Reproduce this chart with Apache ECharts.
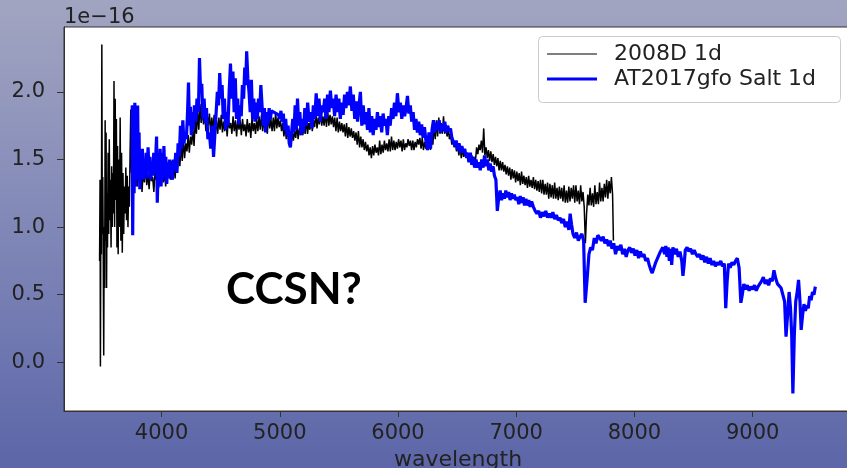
<!DOCTYPE html>
<html>
<head>
<meta charset="utf-8">
<script src="https://cdn.jsdelivr.net/npm/echarts@6/dist/echarts.min.js"></script>
<style>
html,body{margin:0;padding:0;background:#7f87b6;}
#chart{width:847px;height:468px;}
</style>
</head>
<body>
<div id="chart"></div>
<script>
// ---- data (flux in units of 1e-16) ----
const xTicks = [4000, 5000, 6000, 7000, 8000, 9000];
const yTicks = [0.0, 0.5, 1.0, 1.5, 2.0];
const seriesNames = ['2008D 1d', 'AT2017gfo Salt 1d'];

const blackWave = [3476,3480,3483,3487,3491,3495,3499,3503,3507,3511,3515,3519,3523,3527,3531,3535,3539,3543,3548,3553,3558,3563,3568,3573,3578,3583,3588,3593,3598,3603,3608,3613,3618,3623,3628,3633,3638,3644,3650,3656,3662,3668,3674,3680,3686,3692,3698,3704,3710,3716,3722,3728,3734,3740,3746,3752,3758,3764,3770,3776,
3785,3795,3805,3815,3825,3835,3845,3855,3865,3875,3885,3895,3905,3915,3925,3935,3945,3955,3965,3975,3985,3995,
4005,4015,4025,4035,4045,4055,4065,4075,4085,4095,4105,4115,4125,4135,4145,4155,4165,4175,4185,4195,
4205,4215,4225,4235,4245,4255,4265,4275,4285,4295,4305,4315,4325,4335,4345,4355,4365,4375,4385,4395,
4405,4415,4425,4435,4445,4455,4465,4475,4485,4495,4505,4515,4525,4535,4545,4555,4565,4575,4585,4595,
4605,4615,4625,4635,4645,4655,4665,4675,4685,4695,4705,4715,4725,4735,4745,4755,4765,4775,4785,4795,
4805,4815,4825,4835,4845,4855,4865,4875,4885,4895,4905,4915,4925,4935,4945,4955,4965,4975,4985,4995,
5005,5015,5025,5035,5045,5055,5065,5075,5085,5095,5105,5115,5125,5135,5145,5155,5165,5175,5185,5195,
5205,5215,5225,5235,5245,5255,5265,5275,5285,5295,5305,5315,5325,5335,5345,5355,5365,5375,5385,5395,
5405,5415,5425,5435,5445,5455,5465,5475,5485,5495,5505,5515,5525,5535,5545,5555,5565,5575,5585,5595,
5605,5615,5625,5635,5645,5655,5665,5675,5685,5695,5705,5715,5725,5735,5745,5755,5765,5775,5785,5795,
5805,5815,5825,5835,5845,5855,5865,5875,5885,5895,5905,5915,5925,5935,5945,5955,5965,5975,5985,5995,
6005,6015,6025,6035,6045,6055,6065,6075,6085,6095,6105,6115,6125,6135,6145,6155,6165,6175,6185,6195,
6205,6215,6225,6235,6245,6255,6265,6275,6285,6295,6305,6315,6325,6335,6345,6355,6365,6375,6385,6395,
6405,6415,6425,6435,6445,6455,6465,6475,6485,6495,6505,6515,6525,6535,6545,6555,6565,6575,6585,6595,
6605,6615,6625,6635,6645,6655,6665,6675,6685,6695,6705,6715,6725,6735,6745,6755,6765,6775,6785,6795,
6805,6815,6825,6835,6845,6855,6865,6875,6885,6895,6905,6915,6925,6935,6945,6955,6965,6975,6985,6995,
7005,7015,7025,7035,7045,7055,7065,7075,7085,7095,7105,7115,7125,7135,7145,7155,7165,7175,7185,7195,
7205,7215,7225,7235,7245,7255,7265,7275,7285,7295,7305,7315,7325,7335,7345,7355,7365,7375,7385,7395,
7405,7415,7425,7435,7445,7455,7465,7475,7485,7495,7505,7515,7525,7535,7545,7555,7565,7575,7585,7595,
7605,7615,7625,7635,7645,7655,7665,7675,7685,7695,7705,7715,7725,7735,7745,7755,7765,7775,7785,7795,
7805,7815,7822];
const blackFlux = [0.75,1.35,-0.03,1.20,0.80,2.35,0.95,1.37,0.78,0.05,1.00,0.55,1.79,0.90,1.70,0.55,1.25,0.85,1.55,0.95,1.65,1.05,1.35,0.85,1.45,1.00,1.40,1.10,2.08,1.00,1.95,1.20,1.80,0.85,1.60,0.80,1.50,1.00,1.81,0.90,1.55,0.81,1.40,0.95,1.30,1.10,1.44,1.05,1.38,1.00,1.30,1.15,1.55,1.87,1.40,1.90,1.30,1.75,1.35,1.60,
1.45,1.30,1.52,1.32,1.45,1.26,1.42,1.33,1.46,1.31,1.40,1.28,1.43,1.34,1.37,1.26,1.41,1.35,1.44,1.29,1.38,1.34,
1.46,1.33,1.41,1.30,1.47,1.37,1.44,1.35,1.49,1.39,1.45,1.36,1.52,1.43,1.56,1.45,1.61,1.49,1.66,1.51,
1.62,1.56,1.68,1.55,1.67,1.61,1.73,1.60,1.79,1.69,1.86,1.72,1.91,1.77,1.87,1.76,1.85,1.71,1.83,1.75,
1.84,1.70,1.81,1.72,1.83,1.71,1.79,1.69,1.81,1.72,1.83,1.70,1.78,1.71,1.80,1.67,1.81,1.73,1.77,1.69,
1.82,1.71,1.79,1.67,1.80,1.72,1.79,1.68,1.80,1.71,1.76,1.67,1.80,1.70,1.77,1.66,1.81,1.71,1.77,1.69,
1.80,1.71,1.82,1.72,1.83,1.71,1.79,1.72,1.80,1.69,1.84,1.73,1.80,1.71,1.81,1.71,1.85,1.73,1.81,1.74,
1.79,1.71,1.77,1.67,1.75,1.65,1.73,1.65,1.71,1.61,1.71,1.64,1.71,1.66,1.76,1.65,1.73,1.68,1.79,1.68,
1.75,1.69,1.80,1.69,1.77,1.72,1.83,1.71,1.79,1.74,1.85,1.73,1.81,1.76,1.86,1.75,1.82,1.75,1.85,1.74,
1.87,1.75,1.83,1.76,1.82,1.74,1.81,1.71,1.81,1.70,1.78,1.71,1.77,1.70,1.76,1.67,1.77,1.66,1.74,1.67,
1.73,1.66,1.71,1.64,1.70,1.61,1.71,1.59,1.67,1.59,1.65,1.57,1.63,1.56,1.61,1.53,1.59,1.51,1.60,1.53,
1.61,1.55,1.59,1.53,1.64,1.54,1.61,1.55,1.64,1.57,1.62,1.56,1.65,1.56,1.67,1.57,1.64,1.57,1.63,1.58,
1.65,1.59,1.64,1.56,1.65,1.57,1.62,1.59,1.65,1.60,1.64,1.57,1.64,1.57,1.63,1.59,1.65,1.61,1.66,1.58,
1.66,1.57,1.63,1.58,1.61,1.57,1.65,1.57,1.69,1.61,1.76,1.65,1.79,1.67,1.81,1.69,1.77,1.69,1.82,1.69,
1.75,1.67,1.73,1.65,1.69,1.61,1.65,1.59,1.63,1.56,1.61,1.53,1.61,1.51,1.59,1.52,1.56,1.51,1.55,1.50,
1.54,1.48,1.53,1.47,1.51,1.49,1.59,1.54,1.61,1.57,1.64,1.55,1.73,1.53,1.59,1.51,1.57,1.49,1.56,1.48,
1.54,1.46,1.52,1.45,1.51,1.42,1.49,1.42,1.48,1.41,1.46,1.39,1.45,1.38,1.44,1.35,1.43,1.36,1.42,1.33,
1.41,1.34,1.40,1.31,1.41,1.32,1.38,1.31,1.37,1.29,1.38,1.30,1.35,1.29,1.37,1.28,1.35,1.27,1.34,1.26,
1.35,1.25,1.35,1.24,1.32,1.24,1.33,1.21,1.32,1.22,1.31,1.21,1.33,1.21,1.29,1.20,1.30,1.21,1.29,1.19,
1.31,1.18,1.27,1.18,1.30,1.19,1.29,1.21,1.31,1.18,1.31,1.19,1.27,1.17,1.31,1.19,1.26,1.15,0.88,1.10,
1.24,1.16,1.29,1.16,1.25,1.15,1.31,1.17,1.26,1.17,1.33,1.19,1.29,1.19,1.32,1.22,1.35,1.21,1.34,1.25,
1.37,1.24,0.90];

const blueWave = [3752,3756,3762,3768,3774,3780,3786,3792,3798,3804,3810,3816,3822,3830,3838,3846,3854,3862,3870,3878,3886,3894,3902,3910,3918,3926,3934,3942,3950,3958,3964,3972,3980,3988,3996,
4004,4012,4020,4028,4036,4044,4052,4060,4068,4076,4084,4092,4100,4110,4120,4130,4140,4150,4160,4170,4180,4190,4200,4210,4220,4228,4236,4244,4252,4260,4268,4278,4290,4300,4312,4321,4330,4340,4350,4360,4370,4380,4392,
4404,4416,4428,4440,4452,4462,4472,4482,4492,4502,4512,4522,4532,4542,4552,4562,4572,4583,4594,4604,4614,4624,4634,4644,4654,4664,4674,4684,4694,4704,4712,4720,4730,4740,4750,4760,4770,4780,4790,4800,
4810,4820,4830,4840,4850,4860,4870,4880,4890,4900,4910,4920,4930,4990,5000,5010,5020,5030,5040,5050,5060,5070,5080,5090,5100,5110,5120,5130,5140,5150,5160,5170,5180,5190,5200,
5212,5224,5236,5248,5260,5272,5284,5296,5308,5320,5332,5344,5356,5368,5380,5392,5404,5416,5428,5440,5452,5464,5476,5488,5500,5512,5524,5536,5548,5560,5572,5584,5597,5610,5622,5634,5646,5658,5670,5682,5694,
5706,5718,5730,5742,5754,5766,5778,5790,5802,5814,5826,5838,5850,5862,5874,5886,5898,5910,5922,5934,5946,5958,5970,5982,5995,6008,6020,6032,6044,6056,6068,6080,6092,6104,6116,6128,6140,6152,6164,6176,6188,6200,
6212,6224,6236,6250,6262,6275,6288,6300,6312,6324,6336,6348,6360,6372,6384,6396,6408,6420,6432,6444,6456,6468,6480,6492,6504,6516,6528,6540,6552,6564,6576,6588,6600,6612,6624,6636,6648,6660,6672,6684,6696,
6708,6720,6732,6744,6756,6768,6780,6792,6804,6816,6828,6840,6852,6864,6876,6888,6900,6912,6924,6936,6948,6960,6972,6984,6996,7010,7022,7034,7046,7058,7070,7082,7094,7106,7118,7130,7145,7160,7175,7190,
7205,7220,7235,7250,7265,7280,7295,7310,7325,7340,7355,7370,7385,7400,7415,7430,7445,7456,7468,7480,7495,7510,7525,7540,7555,7570,7583,7600,7615,7630,7645,7660,7675,7690,7705,7720,7735,7750,7765,7780,7795,
7810,7825,7840,7855,7870,7885,7900,7915,7930,7945,7960,7975,7990,8005,8020,8035,8050,8065,8080,8095,8110,8125,8140,8150,8165,8180,8200,8220,8240,8255,8265,8275,8285,8295,8305,8315,8325,8340,8355,8370,8385,
8400,8410,8420,8430,8445,8460,8475,8490,8505,8520,8535,8550,8565,8580,8595,8610,8625,8640,8655,8670,8685,8700,8715,8730,8745,8760,8772,8784,8796,8810,8825,8840,8855,8870,8885,8900,8912,8925,8940,8955,8970,
8985,9000,9015,9030,9045,9060,9075,9090,9105,9120,9135,9150,9165,9180,9195,9210,9225,9240,9255,9270,9282,9295,9308,9320,9330,9340,9352,9364,9375,9388,9400,9410,9422,9434,9446,9458,9470,9482,9494,9506,9518,9530];
const blueFlux = [1.90,0.94,1.70,1.25,1.92,1.30,1.88,1.45,1.90,1.35,1.70,1.28,1.55,1.40,1.58,1.35,1.50,1.38,1.55,1.36,1.59,1.42,1.52,1.35,1.48,1.38,1.55,1.40,1.50,1.67,1.18,1.45,1.35,1.58,1.30,
1.55,1.35,1.60,1.38,1.52,1.32,1.48,1.36,1.50,1.40,1.47,1.35,1.50,1.42,1.55,1.40,1.62,1.52,1.75,1.58,1.79,1.62,1.70,1.65,1.85,2.07,1.75,1.89,1.68,1.85,1.72,1.90,1.78,1.95,1.85,2.25,2.00,2.06,1.80,1.95,1.77,1.88,1.65,
1.70,1.58,1.75,1.52,1.70,1.85,2.00,1.90,2.14,1.95,2.05,1.80,1.95,1.72,1.85,1.75,2.00,2.21,1.95,2.15,1.85,2.10,1.80,1.95,1.76,1.90,1.82,2.05,1.95,2.18,2.05,2.30,2.10,2.00,1.85,2.09,1.80,1.95,1.78,1.92,
1.80,1.95,1.85,2.05,1.90,1.75,1.88,1.70,1.85,1.76,1.88,1.80,1.86,1.83,1.80,1.86,1.78,1.84,1.72,1.80,1.68,1.75,1.62,1.59,1.70,1.80,1.70,1.90,1.72,1.95,1.75,1.85,1.68,1.80,1.70,
1.88,1.75,1.92,1.78,1.85,1.73,1.90,1.80,1.99,1.82,1.95,1.78,1.90,1.85,1.95,1.80,1.98,1.85,2.01,1.88,1.95,1.82,1.98,1.85,1.95,1.80,1.92,1.83,1.98,1.88,2.00,1.90,2.04,1.86,1.98,1.80,1.93,1.78,1.90,2.00,1.75,
1.90,1.76,1.85,1.72,1.88,1.70,1.82,1.68,1.80,1.72,1.85,1.74,1.82,1.70,1.84,1.75,1.80,1.68,1.82,1.75,1.88,1.80,1.92,1.82,1.99,1.85,1.92,1.80,1.90,1.82,1.88,1.97,1.84,1.90,1.78,1.85,1.72,1.80,1.70,1.78,1.68,1.76,
1.66,1.74,1.64,1.57,1.70,1.58,1.72,1.79,1.70,1.77,1.72,1.79,1.70,1.76,1.71,1.78,1.70,1.75,1.71,1.73,1.66,1.67,1.60,1.64,1.57,1.62,1.55,1.60,1.55,1.58,1.52,1.55,1.48,1.55,1.46,1.52,1.44,1.50,1.44,1.48,1.42,
1.50,1.44,1.53,1.45,1.50,1.42,1.47,1.41,1.45,1.38,1.35,1.12,1.22,1.27,1.20,1.25,1.21,1.27,1.22,1.26,1.20,1.25,1.21,1.24,1.20,1.22,1.17,1.23,1.18,1.22,1.16,1.21,1.16,1.20,1.15,1.19,1.15,1.12,1.10,1.12,
1.07,1.11,1.08,1.12,1.07,1.10,1.07,1.11,1.06,1.09,1.05,1.07,1.03,1.06,1.00,1.04,0.98,1.10,1.02,0.95,0.92,0.96,0.90,0.93,0.95,0.90,0.44,0.62,0.80,0.85,0.83,0.92,0.88,0.94,0.95,0.90,0.93,0.88,0.91,0.86,0.90,
0.84,0.88,0.80,0.86,0.83,0.87,0.80,0.84,0.78,0.83,0.85,0.81,0.84,0.79,0.83,0.77,0.82,0.78,0.80,0.75,0.77,0.72,0.68,0.66,0.70,0.74,0.78,0.82,0.85,0.80,0.86,0.78,0.85,0.75,0.84,0.72,0.85,0.80,0.84,0.78,0.82,
0.75,0.64,0.72,0.83,0.85,0.82,0.84,0.80,0.83,0.80,0.78,0.80,0.76,0.79,0.74,0.78,0.73,0.77,0.72,0.75,0.71,0.74,0.72,0.75,0.71,0.73,0.40,0.60,0.73,0.70,0.74,0.72,0.75,0.77,0.70,0.44,0.50,0.58,0.54,0.57,0.53,
0.56,0.54,0.57,0.53,0.56,0.55,0.60,0.63,0.58,0.61,0.57,0.62,0.60,0.68,0.62,0.58,0.57,0.55,0.54,0.45,0.19,0.35,0.52,0.40,0.20,-0.23,0.20,0.45,0.51,0.61,0.45,0.24,0.35,0.43,0.38,0.42,0.40,0.49,0.46,0.52,0.50,0.56];

const pair = (w, f) => w.map((x, i) => [x, f[i]]);
const blackData = pair(blackWave, blackFlux);
const blueData = pair(blueWave, blueFlux);

const FONT = 'DejaVu Sans';
const TXT = '#222222';

const chart = echarts.init(document.getElementById('chart'), null, {renderer: 'canvas'});
chart.setOption({
  animation: false,
  backgroundColor: {
    type: 'linear', x: 0, y: 0, x2: 0, y2: 1,
    colorStops: [{offset: 0, color: '#a2a5c1'}, {offset: 0.55, color: '#7c84b6'}, {offset: 1, color: '#5c66a8'}]
  },
  grid: {
    left: 64, right: -5, top: 27, bottom: 57, outerBoundsMode: 'none', containLabel: false,
    show: true, backgroundColor: '#ffffff', borderColor: '#333333', borderWidth: 1
  },
  xAxis: {
    type: 'value', min: 3175, max: 9840,
    name: 'wavelength', nameLocation: 'middle', nameGap: 36,
    nameTextStyle: {fontFamily: FONT, fontSize: 22, color: TXT},
    axisLine: {show: true, onZero: false, lineStyle: {color: '#333333', width: 1}},
    axisTick: {show: true, length: 6, lineStyle: {color: '#333333'}, customValues: xTicks},
    axisLabel: {show: true, margin: 12, fontFamily: FONT, fontSize: 21, color: TXT, customValues: xTicks,
      formatter: v => String(v)},
    splitLine: {show: false}
  },
  yAxis: {
    type: 'value', min: -0.36, max: 2.48,
    axisLine: {show: true, onZero: false, lineStyle: {color: '#333333', width: 1}},
    axisTick: {show: true, length: 7, lineStyle: {color: '#333333'}, customValues: yTicks},
    axisLabel: {show: true, margin: 19, fontFamily: FONT, fontSize: 21, color: TXT, customValues: yTicks,
      formatter: v => Number(v).toFixed(1)},
    splitLine: {show: false}
  },
  legend: [
    {
      data: [seriesNames[0]], left: 547, top: 42, padding: 0, icon: 'rect', z: 20,
      itemWidth: 50, itemHeight: 1.2, selectedMode: false,
      textStyle: {fontFamily: FONT, fontSize: 22, color: TXT, lineHeight: 24, padding: [0, 0, 0, 12]}
    },
    {
      data: [seriesNames[1]], left: 547, top: 67, padding: 0, icon: 'rect', z: 20,
      itemWidth: 50, itemHeight: 3, selectedMode: false,
      textStyle: {fontFamily: FONT, fontSize: 22, color: TXT, lineHeight: 24, padding: [0, 0, 0, 12]}
    }
  ],
  graphic: [
    {type: 'rect', left: 538, top: 36, z: 10, silent: true,
      shape: {width: 302, height: 66, r: 4},
      style: {fill: 'rgba(255,255,255,0.85)', stroke: '#cccccc', lineWidth: 1}},
    {type: 'text', left: 64, top: 7, z: 10, silent: true,
      style: {text: '1e\u221216', fontFamily: FONT, fontSize: 21, fill: TXT}},
    {type: 'text', left: 226, top: 268, z: 10, silent: true,
      style: {text: 'CCSN?', fontFamily: 'Lato', fontWeight: 'bold', fontSize: 44, fill: '#000000'}}
  ],
  series: [
    {name: seriesNames[0], type: 'line', data: blackData, showSymbol: false, symbol: 'none',
      lineStyle: {color: '#000000', width: 1.5}, itemStyle: {color: '#000000'}, z: 2, clip: true},
    {name: seriesNames[1], type: 'line', data: blueData, showSymbol: false, symbol: 'none',
      lineStyle: {color: '#0000ff', width: 3.2}, itemStyle: {color: '#0000ff'}, z: 3, clip: true}
  ]
});
</script>
</body>
</html>
